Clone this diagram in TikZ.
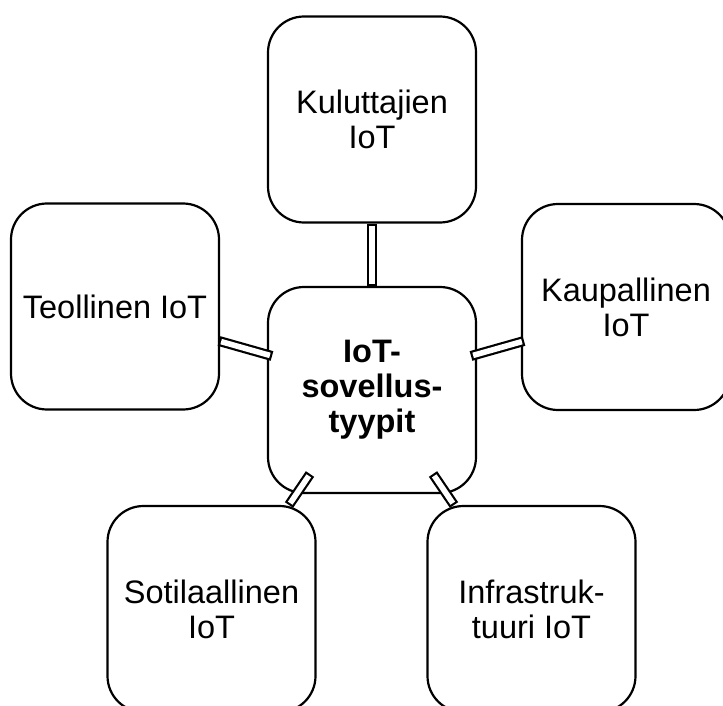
\documentclass[tikz,border=0pt]{standalone}
\usepackage{fontspec}
\setmainfont{Liberation Sans}
\begin{document}
\begin{tikzpicture}[x=1pt,y=-1pt,
  box/.style={draw=black, line width=2.2pt, fill=white, rounded corners=36pt,
    minimum width=208pt, minimum height=206pt, inner sep=2pt, align=center,
    font=\fontsize{32.5}{35}\selectfont},
  linkouter/.style={draw=black, line width=10pt},
  linkinner/.style={draw=white, line width=5.6pt, shorten <=2.2pt, shorten >=2.2pt}]
\useasboundingbox (0,0) rectangle (723,706);
\clip (0,0) rectangle (723,706);
% boxes
\node[box] (kul) at (372,119.5) {Kuluttajien\\IoT};
\node[box] (teo) at (115,306.5) {Teollinen IoT};
\node[box] (kau) at (626,307) {Kaupallinen\\IoT};
\node[box] (ctr) at (372,390) {\bfseries IoT-\\\bfseries sovellus-\\\bfseries tyypit};
\node[box] (sot) at (211.5,609) {Sotilaallinen\\IoT};
\node[box] (inf) at (531.5,609) {Infrastruk-\\tuuri IoT};
% link end points
\coordinate (teoL) at (219,341);
\coordinate (ctrL) at (272,356);
\coordinate (kauR) at (524,341);
\coordinate (ctrR) at (471,356);
\coordinate (ctrBL) at (310,474);
\coordinate (sotT) at (289,505);
\coordinate (ctrBR) at (433,474);
\coordinate (infT) at (454,505);
% links
\foreach \a/\b in {kul.south/ctr.north, teoL/ctrL, kauR/ctrR, ctrBL/sotT, ctrBR/infT}{
  \draw[linkouter] (\a) -- (\b);
  \draw[linkinner] (\a) -- (\b);
}
\end{tikzpicture}
\end{document}
